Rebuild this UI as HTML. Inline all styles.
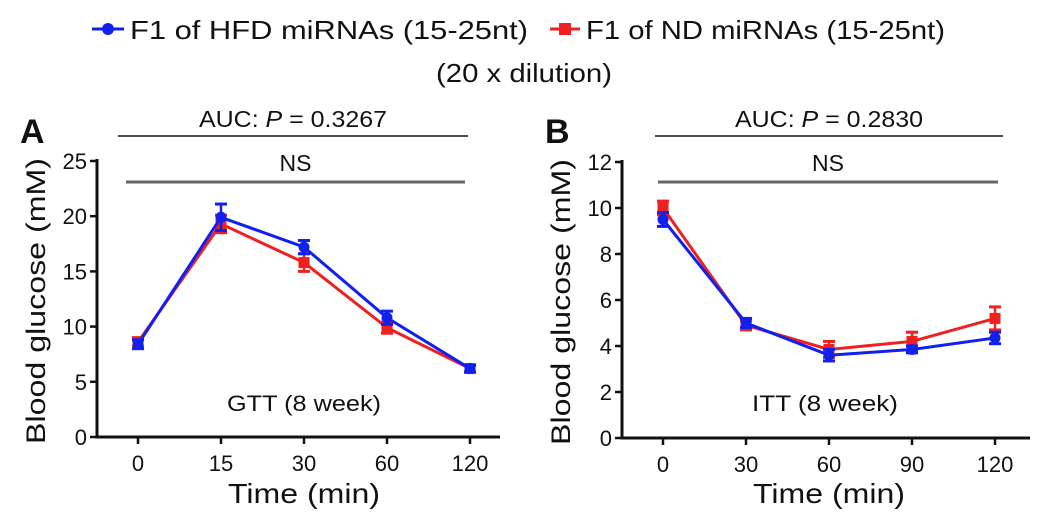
<!DOCTYPE html>
<html><head><meta charset="utf-8"><style>
body{margin:0;background:#fff;width:1046px;height:519px;overflow:hidden}
svg{font-family:"Liberation Sans",sans-serif}
</style></head><body>
<svg id="s" width="1046" height="519">
<g>
<line x1="92" y1="29" x2="124" y2="29" stroke="#1020ee" stroke-width="3"/><circle cx="108" cy="29" r="6" fill="#1020ee"/>
<text x="130" y="39" font-size="26" textLength="398" lengthAdjust="spacingAndGlyphs" fill="#111">F1 of HFD miRNAs (15-25nt)</text>
<line x1="550" y1="29" x2="580" y2="29" stroke="#ee2020" stroke-width="3"/><rect x="559" y="23" width="12" height="12" fill="#ee2020"/>
<text x="586" y="39" font-size="26" textLength="359" lengthAdjust="spacingAndGlyphs" fill="#111">F1 of ND miRNAs (15-25nt)</text>
<text x="436" y="82" font-size="26" textLength="176" lengthAdjust="spacingAndGlyphs" fill="#111">(20 x dilution)</text>
</g>
</svg>
<script>
const catsA=["0","15","30","60","120"];
const hfdA=[8.4,19.9,17.2,10.8,6.2];
const hfdAErr=[0.4,1.2,0.6,0.6,0.3];
const ndA=[8.6,19.3,15.8,9.9,6.2];
const ndAErr=[0.4,0.8,0.8,0.5,0.3];
const ticksA=[0,5,10,15,20,25];
const catsB=["0","30","60","90","120"];
const hfdB=[9.5,5.0,3.6,3.85,4.35];
const hfdBErr=[0.3,0.2,0.25,0.15,0.25];
const ndB=[10.0,4.9,3.85,4.2,5.2];
const ndBErr=[0.3,0.2,0.35,0.4,0.5];
const ticksB=[0,2,4,6,8,10,12];
const NS="http://www.w3.org/2000/svg",svg=document.getElementById('s');
function el(t,a,p){const e=document.createElementNS(NS,t);for(const k in a)e.setAttribute(k,a[k]);(p||svg).appendChild(e);return e;}
function panel(o){
  const g=el('g',{});
  
  
  const y=v=>o.y0-(v/o.ymax)*(o.y0-o.ytop);
  const x=i=>o.x0+i*83;
  let t=el('text',{x:o.lx,y:143,'font-size':34,'font-weight':'bold',fill:'#111'},g);t.textContent=o.id;
  
  el('line',{x1:o.a1,y1:136,x2:o.a2,y2:136,stroke:'#111','stroke-width':1.5},g);
  t=el('text',{x:(o.a1+o.a2)/2-94,y:127,'font-size':23,textLength:188,lengthAdjust:'spacingAndGlyphs',fill:'#111'},g);
  t.innerHTML='AUC: <tspan font-style="italic">P</tspan> = '+o.p;
  
  el('line',{x1:o.n1,y1:182,x2:o.n2,y2:182,stroke:'#666','stroke-width':3},g);
  t=el('text',{x:(o.n1+o.n2)/2,y:171,'font-size':23,'text-anchor':'middle',fill:'#111'},g);t.textContent='NS';
  
  el('line',{x1:o.ax,y1:o.ytop-2,x2:o.ax,y2:o.y0+1.5,stroke:'#111','stroke-width':3},g);
  el('line',{x1:o.ax-1.5,y1:o.y0,x2:o.xend,y2:o.y0,stroke:'#111','stroke-width':3},g);
  o.ticks.forEach(v=>{el('line',{x1:o.ax-7,y1:y(v),x2:o.ax,y2:y(v),stroke:'#111','stroke-width':2.5},g);
    const tt=el('text',{x:o.ax-10,y:y(v)+8,'font-size':22,'text-anchor':'end',fill:'#111'},g);tt.textContent=v;
    });
  o.cats.forEach((c,i)=>{el('line',{x1:x(i),y1:o.y0,x2:x(i),y2:o.y0+7,stroke:'#111','stroke-width':2.5},g);
    const tt=el('text',{x:x(i),y:o.y0+34,'font-size':22,'text-anchor':'middle',fill:'#111'},g);tt.textContent=c;
    });
  t=el('text',{x:o.x0+166-76,y:503,'font-size':28,textLength:152,lengthAdjust:'spacingAndGlyphs',fill:'#111'},g);t.textContent='Time (min)';
  
  t=el('text',{x:-143,y:0,'font-size':27,textLength:286,lengthAdjust:'spacingAndGlyphs',fill:'#111',transform:`translate(${o.ax-52},${(o.ytop+o.y0)/2+2}) rotate(-90)`},g);t.textContent='Blood glucose (mM)';
  
  t=el('text',{x:o.x0+166-77,y:411,'font-size':22,textLength:o.lw,lengthAdjust:'spacingAndGlyphs',fill:'#111'},g);t.textContent=o.label;
  
  [[o.nd,o.ndE,'#ee2020','nd',false],[o.hfd,o.hfdE,'#1020ee','hfd',true]].forEach(([d,e,c,n,circ])=>{
    const pl=el('polyline',{points:d.map((v,i)=>x(i)+','+y(v)).join(' '),fill:'none',stroke:c,'stroke-width':3},g);
    
    d.forEach((v,i)=>{const X=x(i);
      el('line',{x1:X,y1:y(v+e[i]),x2:X,y2:y(v-e[i]),stroke:c,'stroke-width':2.5},g);
      el('line',{x1:X-6,y1:y(v+e[i]),x2:X+6,y2:y(v+e[i]),stroke:c,'stroke-width':3},g);
      el('line',{x1:X-6,y1:y(v-e[i]),x2:X+6,y2:y(v-e[i]),stroke:c,'stroke-width':3},g);
      const m=circ?el('circle',{cx:X,cy:y(v),r:5.5,fill:c},g):el('rect',{x:X-5.5,y:y(v)-5.5,width:11,height:11,fill:c},g);
      });
  });
}
panel({id:'A',lx:20,a1:118,a2:468,n1:126,n2:465,p:'0.3267',ax:97,x0:138,xend:500,ytop:161,y0:437,ymax:25,ticks:ticksA,cats:catsA,hfd:hfdA,hfdE:hfdAErr,nd:ndA,ndE:ndAErr,label:'GTT (8 week)',lw:154});
panel({id:'B',lx:545,a1:655,a2:1003,n1:658,n2:998,p:'0.2830',ax:622,x0:663,xend:1030,ytop:162,y0:438,ymax:12,ticks:ticksB,cats:catsB,hfd:hfdB,hfdE:hfdBErr,nd:ndB,ndE:ndBErr,label:'ITT (8 week)',lw:146});
</script>
</body></html>
